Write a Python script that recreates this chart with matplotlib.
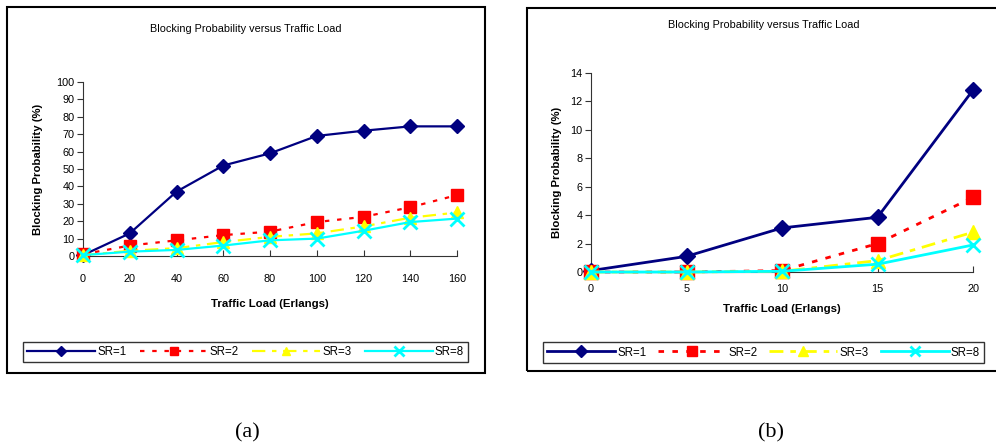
import matplotlib.pyplot as plt
from matplotlib.patches import Rectangle

# traffic load (Erlangs) and blocking probability (%) per switching ratio
load_a = [0, 20, 40, 60, 80, 100, 120, 140, 160]
sr1_a = [0.5, 13, 37, 52, 59, 69, 72, 74.5, 74.5]
sr2_a = [1, 6, 9, 12, 14, 19.5, 22.5, 28, 35]
sr3_a = [0.5, 3, 4.5, 8, 11, 13, 17, 22, 25]
sr8_a = [0.5, 2.5, 3.5, 6, 9, 10, 14.5, 19.5, 21.5]

load_b = [0, 5, 10, 15, 20]
sr1_b = [0.1, 1.1, 3.1, 3.85, 12.8]
sr2_b = [0, 0, 0.1, 2.0, 5.25]
sr3_b = [0, 0, 0.05, 0.8, 2.8]
sr8_b = [0, 0, 0.05, 0.55, 1.9]

labels = ["SR=1", "SR=2", "SR=3", "SR=8"]

W, H = 996, 448
plt.rcParams['font.family'] = ['Liberation Sans', 'DejaVu Sans']
fig = plt.figure(figsize=(W / 100, H / 100), dpi=100)


def box(x0, y0, x1, y1):
    # pixel box (top-left origin) -> figure fraction rect
    return [x0 / W, 1 - y1 / H, (x1 - x0) / W, (y1 - y0) / H]


def panel(frame, axbox, legbox, xs, series, ylim, xticks, yticks, lw, mscale,
          styles, title_y, xlab_y, ylab_x, xtick_pad):
    fx0, fy0, fx1, fy1 = frame
    fig.patches.append(Rectangle((fx0 / W, 1 - fy1 / H), (fx1 - fx0) / W,
                                 (fy1 - fy0) / H, transform=fig.transFigure,
                                 fill=False, edgecolor='black', lw=1.5))
    ax = fig.add_axes(box(*axbox))
    specs = [
        dict(color='#000080', marker='D', ms=7.5 * mscale, ls='-'),
        dict(color='#ff0000', marker='s', ms=9 * mscale, ls=styles[0]),
        dict(color='#ffff00', marker='^', ms=9 * mscale, ls=styles[1]),
        dict(color='#00ffff', marker='x', ms=9.5 * mscale, mew=2, ls='-'),
    ]
    handles = []
    for ys, lab, sp in zip(series, labels, specs):
        h, = ax.plot(xs, ys, label=lab, lw=lw, clip_on=False, zorder=3, **sp)
        handles.append(h)
    ax.set_xlim(xs[0], xs[-1])
    ax.set_ylim(*ylim)
    ax.set_xticks(xticks)
    ax.set_yticks(yticks)
    for s in ['top', 'right']:
        ax.spines[s].set_visible(False)
    for s in ['left', 'bottom']:
        ax.spines[s].set_color('#333333')
    ax.tick_params(axis='y', direction='out', length=4, labelsize=7.8, pad=2,
                   color='#333333')
    ax.tick_params(axis='x', direction='in', length=4, labelsize=7.8,
                   pad=xtick_pad, color='#333333')
    ax.set_facecolor('none')

    cx = (axbox[0] + axbox[2]) / 2
    fig.text(((fx0 + fx1) / 2) / W, 1 - title_y / H,
             "Blocking Probability versus Traffic Load",
             ha='center', va='center', fontsize=7.8)
    fig.text(cx / W, 1 - xlab_y / H, "Traffic Load (Erlangs)",
             ha='center', va='center', fontsize=8.2, fontweight='bold')
    fig.text(ylab_x / W, 1 - ((axbox[1] + axbox[3]) / 2) / H,
             "Blocking Probability (%)", ha='center', va='center',
             rotation=90, fontsize=8.2, fontweight='bold')

    leg = fig.legend(handles=handles, loc='center',
                     bbox_to_anchor=box(*legbox),
                     mode='expand', ncol=4, fontsize=8.3, handlelength=5.9,
                     handletextpad=0.2, columnspacing=0.7, borderpad=0.35,
                     borderaxespad=0, fancybox=False, markerscale=0.7)
    leg.get_frame().set_edgecolor('black')
    leg.get_frame().set_linewidth(1.0)
    return ax


panel((7, 7, 485, 373), (83, 82, 457, 256), (23, 338, 468, 366),
      load_a, [sr1_a, sr2_a, sr3_a, sr8_a], (0, 100),
      load_a, range(0, 101, 10), 1.6, 1.0,
      [(0, (2, 3.5)), (0, (6, 3, 2, 3))], 29, 304, 38, 13)

panel((527, 8, 1000, 371), (591, 73, 973, 272), (543, 341, 984, 364),
      load_b, [sr1_b, sr2_b, sr3_b, sr8_b], (0, 14),
      load_b, range(0, 15, 2), 2.0, 1.1,
      [(0, (2, 3)), (0, (5, 2.5, 2, 2.5))], 25, 309, 557, 9)

fig.text(247 / W, 1 - 433 / H, "(a)", ha='center', va='center',
         fontsize=16, family='Liberation Serif')
fig.text(771 / W, 1 - 433 / H, "(b)", ha='center', va='center',
         fontsize=16, family='Liberation Serif')

fig.savefig("out.png", dpi=100)
